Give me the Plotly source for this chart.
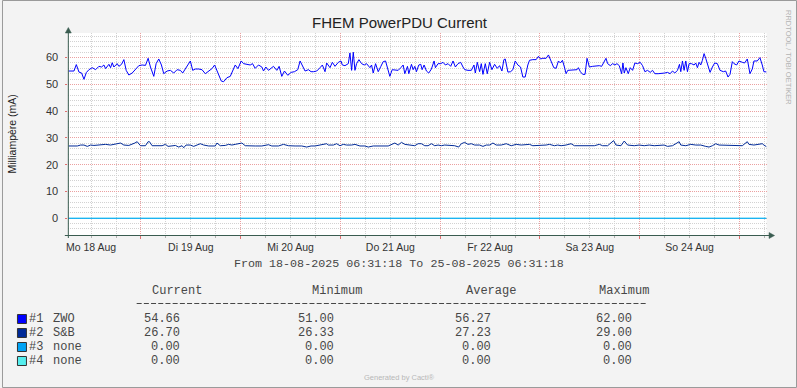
import plotly.graph_objects as go
from datetime import datetime, timedelta

W, H = 797, 388
START = datetime(2025, 8, 18, 6, 31, 18)
END = START + timedelta(days=7)

# ---- data (hours since start, milliampere) ----
zwo_hours = [0.0, 1.36, 1.92, 2.56, 3.2, 3.76, 4.32, 4.96, 5.76, 6.56, 7.36, 8.0, 8.56, 8.96, 9.76, 10.16, 10.56, 10.96,
             11.76, 12.16, 12.8, 13.36, 13.92, 14.56, 15.36, 16.16, 16.96, 17.76, 18.56, 19.2, 19.76, 20.56, 21.12, 21.76,
             22.4, 22.96, 23.76, 24.56, 25.36, 26.16, 26.96, 27.52, 28.16, 28.8, 29.36, 29.92, 30.56, 31.36, 32.16, 32.96,
             33.76, 34.56, 35.2, 35.76, 36.32, 36.8, 37.36, 38.16, 38.96, 39.52, 40.16, 40.8, 41.6, 42.16, 42.96, 43.76,
             44.32, 44.96, 45.76, 46.56, 46.96, 47.52, 48.16, 48.8, 49.36, 50.16, 50.72, 51.36, 52.0, 52.8, 53.6, 54.4,
             55.2, 55.76, 56.32, 56.96, 57.76, 58.4, 58.96, 59.76, 60.56, 61.12, 61.76, 62.16, 62.96, 63.52, 64.16, 64.96,
             65.6, 65.92, 66.56, 67.36, 67.76, 68.16, 68.56, 68.96, 69.36, 69.92, 70.56, 71.2, 71.76, 72.56, 72.96, 73.36,
             73.92, 74.56, 75.2, 75.76, 76.32, 76.8, 77.36, 77.92, 78.72, 79.36, 80.0, 80.56, 80.96, 81.6, 81.92, 82.56,
             82.96, 83.36, 83.76, 84.32, 84.8, 85.12, 85.6, 86.16, 86.72, 87.36, 88.0, 88.32, 88.96, 89.6, 90.16, 90.72,
             91.36, 92.0, 92.56, 93.12, 93.76, 94.4, 94.96, 95.36, 96.16, 96.96, 97.6, 97.92, 98.4, 98.96, 99.36, 99.76,
             100.32, 100.8, 101.36, 101.92, 102.56, 103.2, 103.76, 104.32, 104.8, 105.12, 105.76, 106.4, 106.96, 107.52,
             108.16, 108.8, 109.36, 109.92, 110.56, 110.96, 111.76, 112.56, 113.12, 113.6, 114.16, 114.96, 115.52, 116.0,
             116.32, 116.8, 117.36, 117.92, 118.4, 118.88, 119.36, 119.76, 120.16, 120.96, 121.76, 122.4, 122.72, 123.2,
             123.76, 124.32, 124.8, 125.36, 126.16, 126.96, 127.76, 128.32, 128.8, 129.36, 129.76, 130.4, 130.96, 131.52,
             132.0, 132.56, 133.12, 133.44, 133.76, 134.16, 134.72, 135.2, 135.76, 136.32, 136.96, 137.6, 138.16, 138.72,
             139.36, 140.0, 140.56, 141.12, 141.92, 142.72, 143.52, 144.16, 144.8, 145.36, 145.92, 146.56, 147.04, 147.36,
             147.76, 148.16, 148.56, 148.96, 149.36, 149.92, 150.56, 150.96, 151.36, 151.76, 152.16, 152.56, 152.96,
             153.36, 153.92, 154.4, 154.96, 155.52, 156.16, 156.8, 157.6, 158.16, 158.72, 159.2, 159.76, 160.16, 160.8,
             161.36, 162.16, 162.72, 163.36, 164.0, 164.56, 164.96, 165.76, 166.4, 166.96, 167.36, 168.0]
zwo_ma = [55.0, 55.0, 57.4, 54.6, 54.25, 51.9, 54.4, 55.5, 56.25, 55.5, 56.75, 56.5, 57.25, 55.9, 57.5, 56.25, 58.1, 56.5,
          57.75, 56.75, 57.5, 59.25, 55.25, 53.5, 54.25, 55.75, 57.0, 57.25, 57.1, 59.75, 56.5, 53.0, 57.75, 59.5,
          57.25, 54.0, 55.0, 55.25, 54.25, 55.5, 55.25, 54.25, 55.75, 57.5, 58.75, 55.25, 55.75, 55.75, 55.5, 54.0,
          55.0, 55.9, 57.25, 55.25, 53.4, 51.25, 51.0, 52.5, 53.0, 55.25, 57.25, 55.9, 58.75, 57.75, 57.5, 57.25,
          57.75, 56.0, 57.25, 56.5, 55.0, 56.5, 55.25, 56.25, 56.75, 55.25, 56.75, 53.0, 55.0, 53.4, 54.5, 54.75,
          55.5, 58.75, 57.25, 55.0, 55.5, 54.75, 54.75, 55.0, 56.25, 57.25, 54.75, 58.0, 56.25, 58.25, 56.75, 58.25,
          58.75, 57.25, 57.0, 57.75, 61.75, 55.25, 62.0, 55.25, 57.75, 59.25, 57.75, 57.25, 57.75, 56.25, 57.25, 54.25,
          57.75, 54.75, 56.75, 58.5, 58.75, 56.25, 53.0, 55.5, 55.5, 55.25, 56.25, 57.25, 54.0, 56.75, 54.0, 57.5,
          55.5, 56.75, 54.75, 57.25, 57.5, 55.5, 57.25, 55.0, 54.25, 55.75, 58.75, 56.25, 57.75, 57.75, 58.25, 57.25,
          57.75, 56.75, 58.75, 56.5, 57.75, 58.25, 56.5, 55.5, 55.25, 55.25, 57.25, 54.25, 58.25, 54.75, 57.75, 53.75,
          57.75, 54.0, 58.25, 55.5, 57.5, 56.0, 57.0, 55.0, 59.25, 59.5, 54.6, 54.75, 55.5, 58.75,
          57.25, 56.5, 52.75, 52.75, 57.25, 59.0, 59.25, 59.25, 60.5, 59.5, 59.75, 59.75, 61.0, 59.25,
          58.5, 56.25, 56.0, 58.75, 58.0, 59.0, 56.5, 54.0, 55.25, 55.25, 55.25, 55.5, 56.25, 54.75,
          53.75, 53.75, 59.75, 56.5, 56.75, 57.0, 57.0, 56.75, 58.25, 59.75, 57.75, 57.0, 57.75, 57.25,
          57.75, 57.0, 54.0, 58.0, 54.25, 56.25, 54.0, 56.25, 55.25, 58.0, 57.75, 58.25, 57.0, 54.75,
          55.25, 54.5, 55.25, 54.0, 54.0, 54.0, 54.25, 54.5, 54.0, 55.0, 54.25, 55.25, 57.5, 54.75,
          58.75, 55.25, 58.75, 54.75, 57.75, 57.75, 57.25, 58.0, 56.25, 58.25, 57.25, 59.0, 61.5,
          59.75, 56.5, 54.5, 56.5, 58.0, 57.75, 55.25, 54.75, 55.0, 52.75, 53.75, 58.5, 57.75, 57.25,
          58.75, 58.25, 58.0, 59.5, 54.0, 55.75, 58.75, 58.75, 60.0, 57.25, 54.75, 54.66]

sb_hours = [0.0, 2.16, 2.96, 3.76, 4.56, 5.36, 6.16, 8.0, 8.96, 10.16, 11.36, 12.56, 13.36, 14.56, 16.0, 16.56, 17.36,
            18.56, 19.2, 19.52, 20.16, 22.56, 23.36, 24.0, 25.76, 26.56, 27.36, 27.76, 28.32, 29.36, 30.16, 31.76, 32.56,
            33.76, 35.36, 35.76, 36.56, 37.76, 38.56, 39.36, 40.16, 40.96, 41.76, 42.56, 43.36, 44.96, 46.56, 48.16,
            48.96, 50.56, 51.76, 52.96, 54.56, 56.16, 57.36, 58.4, 59.36, 62.16, 62.56, 63.76, 64.56, 65.36, 66.16,
            66.96, 68.16, 68.96, 70.16, 71.36, 72.16, 73.36, 76.96, 77.76, 78.56, 79.36, 80.16, 80.96, 82.16, 82.56,
            83.36, 84.16, 84.96, 85.76, 86.56, 87.36, 88.16, 88.96, 89.76, 90.56, 91.76, 92.96, 93.92, 94.56, 95.36,
            96.16, 96.96, 97.76, 98.96, 99.76, 100.56, 101.36, 102.16, 102.96, 104.16, 105.36, 106.56, 107.76, 108.96,
            110.16, 110.96, 111.76, 112.96, 113.76, 114.96, 115.76, 116.96, 117.76, 118.56, 119.76, 120.96, 121.76,
            123.36, 124.96, 126.56, 127.76, 128.56, 129.76, 131.2, 131.76, 132.96, 133.76, 134.56, 136.16, 137.36,
            138.56, 139.76, 140.96, 142.16, 143.36, 144.16, 145.36, 146.96, 147.36, 148.56, 149.76, 150.96, 152.16,
            153.36, 154.16, 154.96, 155.76, 156.56, 157.76, 158.96, 160.16, 161.36, 162.16, 163.36, 163.76, 164.96,
            166.16, 166.96, 167.36, 167.76, 168.0]
sb_ma = [27.0, 27.0, 27.35, 27.35, 26.85, 27.35, 27.2, 27.35, 27.6, 27.35, 27.6, 28.1, 27.35, 27.2, 28.1, 28.6, 27.1,
         27.1, 28.6, 28.6, 27.1, 27.1, 27.6, 26.85, 27.2, 26.6, 27.1, 26.35, 27.35, 27.35, 26.85, 27.85, 27.35,
         27.0, 27.0, 28.1, 27.1, 27.2, 27.6, 27.35, 27.6, 27.85, 28.1, 27.1, 27.0, 27.0, 27.0, 27.48,
         27.0, 27.0, 27.6, 27.1, 27.0, 27.0, 26.6, 27.0, 27.0, 27.85, 27.35, 27.35, 27.85, 27.1, 27.6,
         27.35, 27.35, 27.6, 27.0, 27.0, 26.6, 27.0, 27.0, 27.6, 28.1, 27.35, 28.35, 27.6, 27.35, 27.35,
         27.1, 27.85, 27.85, 27.1, 27.1, 27.85, 27.1, 27.35, 27.1, 27.35, 27.35, 27.1, 26.6, 27.85, 28.35,
         27.6, 27.85, 27.35, 27.35, 26.85, 27.35, 27.35, 28.1, 27.35, 27.35, 27.85, 27.1, 27.6, 27.35,
         27.35, 27.6, 27.1, 27.1, 27.1, 27.35, 27.6, 27.1, 27.35, 27.1, 27.35, 27.85, 27.1,
         27.1, 27.35, 27.1, 27.6, 27.1, 27.1, 29.0, 27.35, 27.1, 28.85, 27.35, 27.1, 27.35,
         27.1, 27.35, 27.1, 27.35, 27.35, 26.85, 27.1, 28.6, 27.35, 27.1, 27.6, 27.35, 27.35,
         26.85, 26.6, 27.1, 27.85, 27.35, 27.35, 27.1, 27.1, 27.35, 27.1, 28.6, 27.6, 27.35,
         27.6, 27.85, 27.35, 26.85, 26.7]

none_hours = [0.0, 168.0]
none3_ma = [0.0, 0.0]
none4_ma = [0.0, 0.0]

series_names = ["#1", "#2", "#3", "#4"]
series_labels = ["ZWO", "S&amp;B", "none", "none"]
series_colors = ["#0000FF", "#002A97", "#00A3F5", "#55EEEE"]
stat_current = [54.66, 26.70, 0.00, 0.00]
stat_minimum = [51.00, 26.33, 0.00, 0.00]
stat_average = [56.27, 27.23, 0.00, 0.00]
stat_maximum = [62.00, 29.00, 0.00, 0.00]
day_labels = ["Mo 18 Aug", "Di 19 Aug", "Mi 20 Aug", "Do 21 Aug", "Fr 22 Aug", "Sa 23 Aug", "So 24 Aug"]

# ---- helpers ----
def px(x):
    return x / W

def py(y):
    return 1 - y / H

def to_dt(hours):
    return [START + timedelta(hours=h) for h in hours]

X0, X1 = 66.5, 766.5
Y0, Y1 = 235, 33
SANS = "Liberation Sans, Arial, sans-serif"
MONO = "Liberation Mono, Courier New, monospace"
TXT = "#333333"
LEG = "#474747"
RED = "#EBA0A0"
GREY = "#D2D2D2"

fig = go.Figure()
fig.add_trace(go.Scatter(x=to_dt(zwo_hours), y=zwo_ma, mode="lines",
                         line=dict(color=series_colors[0], width=1), showlegend=False, hoverinfo="skip"))
fig.add_trace(go.Scatter(x=to_dt(sb_hours), y=sb_ma, mode="lines",
                         line=dict(color=series_colors[1], width=1), showlegend=False, hoverinfo="skip"))
fig.add_trace(go.Scatter(x=to_dt(none_hours), y=none3_ma, mode="lines", xaxis="x2",
                         line=dict(color=series_colors[2], width=1), showlegend=False, hoverinfo="skip"))
fig.add_trace(go.Scatter(x=to_dt(none_hours), y=none4_ma, mode="lines",
                         line=dict(color=series_colors[3], width=1), showlegend=False, hoverinfo="skip"))

noons = [datetime(2025, 8, 18 + i, 12, 0, 0) for i in range(len(day_labels))]

fig.update_layout(
    width=W, height=H, autosize=False,
    margin=dict(l=0, r=0, t=0, b=0),
    paper_bgcolor="#F3F3F3", plot_bgcolor="#FFFFFF",
    xaxis=dict(type="date", domain=[px(X0), px(X1)], range=[START, END], anchor="y",
               showgrid=True, gridcolor=RED, griddash="1px,1px", gridwidth=1,
               tick0="2025-08-19 00:00:00", dtick=86400000, showticklabels=False,
               ticks="outside", ticklen=3, tickcolor="#E07070", zeroline=False, showline=False,
               minor=dict(dtick=21600000, tick0="2025-08-19 00:00:00", showgrid=True, gridcolor=GREY,
                          griddash="1px,1px", ticks="outside", ticklen=2, tickcolor="#B0B0B0")),
    xaxis2=dict(type="date", overlaying="x", anchor="y", side="bottom", range=[START, END],
                tickmode="array", tickvals=noons, ticktext=day_labels, showgrid=False,
                ticks="", ticklabelstandoff=4, zeroline=False, showline=False,
                tickfont=dict(family=SANS, size=10.5, color=TXT)),
    yaxis=dict(domain=[py(Y0), py(Y1)], range=[-6.25, 69.2], tick0=0, dtick=10,
               showgrid=True, gridcolor=RED, griddash="1px,1px", zeroline=False, showline=False,
               ticks="outside", ticklen=2, tickcolor="#E07070", ticklabelstandoff=5,
               tickfont=dict(family=SANS, size=11, color=TXT),
               minor=dict(dtick=2, showgrid=True, gridcolor=GREY, griddash="1px,1px")),
)

shapes = []
axis_col = "#3A5C50"
# axis lines with arrows
shapes.append(dict(type="line", xref="paper", yref="paper", x0=px(X0), x1=px(X0), y0=py(238), y1=py(31),
                   line=dict(color=axis_col, width=1)))
shapes.append(dict(type="line", xref="paper", yref="paper", x0=px(63), x1=px(771), y0=py(235.5), y1=py(235.5),
                   line=dict(color=axis_col, width=1)))
shapes.append(dict(type="path", xref="paper", yref="paper",
                   path=f"M {px(63.5)} {py(33)} L {px(69.5)} {py(33)} L {px(66.5)} {py(27.5)} Z",
                   fillcolor=axis_col, line=dict(color=axis_col, width=0.5)))
shapes.append(dict(type="path", xref="paper", yref="paper",
                   path=f"M {px(769)} {py(232.5)} L {px(769)} {py(238.5)} L {px(774.5)} {py(235.5)} Z",
                   fillcolor=axis_col, line=dict(color=axis_col, width=0.5)))
# outer frame
shapes.append(dict(type="rect", xref="paper", yref="paper", x0=px(0.5), x1=px(796.5), y0=py(387.5), y1=py(0.5),
                   line=dict(color="#9A9A9A", width=1), fillcolor="rgba(0,0,0,0)"))
# legend separator (dashed rule under the column headers)
shapes.append(dict(type="line", xref="paper", yref="paper", x0=px(135), x1=px(645.5), y0=py(303.5), y1=py(303.5),
                   line=dict(color=LEG, width=1, dash="5px,2.2px")))

ann = []
ann.append(dict(text="FHEM PowerPDU Current", x=px(398.5), y=py(22), xref="paper", yref="paper",
                xanchor="center", yanchor="middle", showarrow=False, font=dict(family=SANS, size=15, color="#222222")))
ann.append(dict(text="Milliampère (mA)", x=px(10.5), y=py(134), xref="paper", yref="paper", textangle=-90,
                xanchor="center", yanchor="middle", showarrow=False, font=dict(family=SANS, size=10.5, color="#222222")))
ann.append(dict(text="RRDTOOL / TOBI OETIKER", x=px(789), y=py(57), xref="paper", yref="paper", textangle=90,
                xanchor="center", yanchor="middle", showarrow=False, font=dict(family=SANS, size=7.5, color="#B4B4B4")))
ann.append(dict(text="From 18-08-2025 06:31:18 To 25-08-2025 06:31:18", x=px(398), y=py(263.5),
                xref="paper", yref="paper", xanchor="center", yanchor="middle", showarrow=False,
                font=dict(family=MONO, size=11.7, color=LEG)))
ann.append(dict(text="Generated by Cacti®", x=px(398), y=py(377.5), xref="paper", yref="paper",
                xanchor="center", yanchor="middle", showarrow=False, font=dict(family=SANS, size=7.5, color="#B8B8B8")))

headers = [("Current", 148), ("Minimum", 309), ("Average", 463), ("Maximum", 596)]
for txt, x in headers:
    ann.append(dict(text=txt, x=px(x), y=py(291), xref="paper", yref="paper", xanchor="left", yanchor="middle",
                    showarrow=False, font=dict(family=MONO, size=12, color=LEG)))

row_y = [319, 333, 347, 361]
cols = [(stat_current, 180), (stat_minimum, 334.5), (stat_average, 492), (stat_maximum, 633.5)]
for i in range(4):
    yy = row_y[i]
    shapes.append(dict(type="rect", xref="paper", yref="paper", x0=px(15.5), x1=px(24.5), y0=py(yy + 4.5),
                       y1=py(yy - 4.5), fillcolor=series_colors[i], line=dict(color="#333333", width=1)))
    ann.append(dict(text=series_names[i], x=px(25), y=py(yy), xref="paper", yref="paper", xanchor="left",
                    yanchor="middle", showarrow=False, font=dict(family=MONO, size=12, color=LEG)))
    ann.append(dict(text=series_labels[i], x=px(49.5), y=py(yy), xref="paper", yref="paper", xanchor="left",
                    yanchor="middle", showarrow=False, font=dict(family=MONO, size=12, color=LEG)))
    for vals, xr in cols:
        ann.append(dict(text=f"{vals[i]:.2f}", x=px(xr), y=py(yy), xref="paper", yref="paper", xanchor="right",
                        yanchor="middle", showarrow=False, font=dict(family=MONO, size=12, color=LEG)))

fig.update_layout(shapes=shapes, annotations=ann)
fig.write_html("out.html", config={"displayModeBar": False, "staticPlot": True},
               post_script="document.body.style.margin='0';document.body.style.padding='0';")
